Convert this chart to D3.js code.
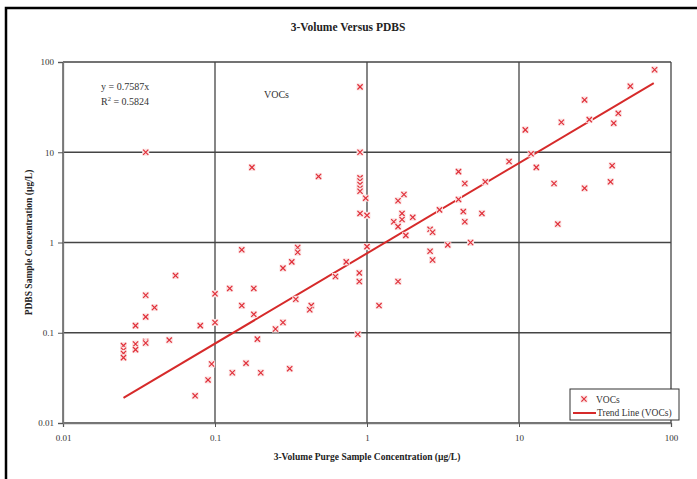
<!DOCTYPE html>
<html>
<head>
<meta charset="utf-8">
<script src="https://cdn.jsdelivr.net/npm/d3@7"></script>
<style>
  body { margin: 0; background: #fff; }
  svg { display: block; }
  text { font-family: "Liberation Serif", "Times New Roman", serif; }
</style>
</head>
<body>
<div id="chart"></div>
<script>
// 3-Volume purge vs PDBS sample concentrations (ug/L)
var purgeX = [0.035, 0.055, 0.035, 0.04, 0.035, 0.03, 0.08, 0.1, 0.1, 0.035,
  0.035, 0.03, 0.03, 0.025, 0.025, 0.025, 0.025, 0.05, 0.095, 0.09,
  0.074, 0.15, 0.35, 0.35, 0.32, 0.28, 0.73, 0.62, 0.89, 0.89,
  1.0, 0.125, 0.18, 0.15, 0.18, 0.34, 0.43, 0.42, 0.28, 0.25,
  0.19, 0.87, 0.16, 0.13, 0.2, 0.31, 0.9, 0.9, 0.175, 0.48,
  0.9, 0.9, 0.9, 0.9, 0.9, 0.98, 0.9, 1.0, 8.6, 4.0,
  4.4, 6.0, 1.75, 1.6, 1.7, 1.7, 1.5, 1.6, 2.0, 1.8,
  2.6, 2.7, 4.3, 4.4, 5.7, 4.0, 3.0, 4.8, 2.6, 2.7,
  3.4, 1.6, 1.2, 78, 54, 27, 45, 42, 19, 29,
  11, 12, 13, 41, 40, 17, 27, 18];
var pdbsY = [10, 0.43, 0.26, 0.19, 0.15, 0.12, 0.12, 0.27, 0.13, 0.08,
  0.077, 0.075, 0.065, 0.072, 0.064, 0.059, 0.053, 0.083, 0.045, 0.03,
  0.02, 0.83, 0.88, 0.78, 0.61, 0.52, 0.61, 0.42, 0.46, 0.37,
  0.9, 0.31, 0.31, 0.2, 0.16, 0.235, 0.2, 0.18, 0.13, 0.11,
  0.085, 0.096, 0.046, 0.036, 0.036, 0.04, 53, 10, 6.8, 5.4,
  5.2, 4.8, 4.4, 4.0, 3.7, 3.1, 2.1, 2.0, 7.9, 6.1,
  4.5, 4.7, 3.4, 2.9, 2.1, 1.8, 1.7, 1.5, 1.9, 1.2,
  1.4, 1.3, 2.2, 1.7, 2.1, 3.0, 2.3, 1.0, 0.8, 0.64,
  0.94, 0.37, 0.2, 82, 54, 38, 27, 21, 21.5, 23,
  17.7, 9.6, 6.8, 7.1, 4.7, 4.5, 4.0, 1.6];
var trendSlope = 0.7587;
var trendRange = [0.025, 77];
var tickVals = [0.01, 0.1, 1, 10, 100];

var W = 697, H = 479;
var margin = { left: 63, right: 26, top: 62, bottom: 56 };

var svg = d3.select('#chart').append('svg')
    .attr('width', W)
    .attr('height', H);

// outer frame
svg.append('rect')
    .attr('x', 6).attr('y', 8)
    .attr('width', W + 10).attr('height', H + 10)
    .attr('fill', 'none')
    .attr('stroke', '#000')
    .attr('stroke-width', 2.5);

var x = d3.scaleLog().domain([0.01, 100]).range([margin.left, W - margin.right]);
var y = d3.scaleLog().domain([0.01, 100]).range([H - margin.bottom, margin.top]);

// grid
svg.append('g').selectAll('line')
    .data(tickVals)
    .enter().append('line')
    .attr('x1', function(d) { return x(d) })
    .attr('x2', function(d) { return x(d) })
    .attr('y1', y(100)).attr('y2', y(0.01))
    .attr('stroke', '#444').attr('stroke-width', 1.3);
svg.append('g').selectAll('line')
    .data(tickVals)
    .enter().append('line')
    .attr('y1', function(d) { return y(d) })
    .attr('y2', function(d) { return y(d) })
    .attr('x1', x(0.01)).attr('x2', x(100))
    .attr('stroke', '#444').attr('stroke-width', 1.3);

var fmt = function(d) { return d3.format('~g')(d) };

var xAxis = svg.append('g')
    .attr('transform', 'translate(0,' + y(0.01) + ')')
    .call(d3.axisBottom(x).tickValues(tickVals).tickFormat(fmt).tickSize(4).tickPadding(8));
var yAxis = svg.append('g')
    .attr('transform', 'translate(' + x(0.01) + ',0)')
    .call(d3.axisLeft(y).tickValues(tickVals).tickFormat(fmt).tickSize(5).tickPadding(4));

[xAxis, yAxis].forEach(function(a) {
  a.select('.domain').attr('stroke', '#777').attr('stroke-width', 1.3);
  a.selectAll('.tick line').attr('stroke', '#555');
  a.selectAll('.tick text')
    .attr('font-family', '"Liberation Serif", serif')
    .attr('font-size', 9)
    .attr('fill', '#333');
});

// trend line
svg.append('line')
    .attr('x1', x(trendRange[0])).attr('y1', y(trendRange[0] * trendSlope))
    .attr('x2', x(trendRange[1])).attr('y2', y(trendRange[1] * trendSlope))
    .attr('stroke', '#d62a2a')
    .attr('stroke-width', 2);

// markers
var pts = purgeX.map(function(v, i) { return [v, pdbsY[i]] });
var s = 2.6;
var marks = svg.append('g').selectAll('g')
    .data(pts)
    .enter().append('g')
    .attr('transform', function(d) { return 'translate(' + x(d[0]) + ',' + y(d[1]) + ')' });
marks.append('rect')
    .attr('x', -3.5).attr('y', -3.5).attr('width', 7).attr('height', 7)
    .attr('fill', '#fbe3e3');
marks.append('path')
    .attr('d', 'M' + (-s) + ',' + (-s) + 'L' + s + ',' + s + 'M' + (-s) + ',' + s + 'L' + s + ',' + (-s))
    .attr('stroke', '#e0303a')
    .attr('stroke-width', 1.2);

// titles
svg.append('text')
    .attr('x', 348).attr('y', 31)
    .attr('text-anchor', 'middle')
    .attr('font-weight', 'bold')
    .attr('font-size', 11.5)
    .attr('fill', '#222')
    .text('3-Volume Versus PDBS');

svg.append('text')
    .attr('x', (x(0.01) + x(100)) / 2).attr('y', 460)
    .attr('text-anchor', 'middle')
    .attr('font-weight', 'bold')
    .attr('font-size', 9.5)
    .attr('fill', '#222')
    .text('3-Volume Purge Sample Concentration (\u00b5g/L)');

svg.append('text')
    .attr('transform', 'translate(32,' + (y(1) + 0) + ') rotate(-90)')
    .attr('text-anchor', 'middle')
    .attr('font-weight', 'bold')
    .attr('font-size', 9.5)
    .attr('fill', '#222')
    .text('PDBS Sample Concentration (\u00b5g/L)');

// equation + series label
svg.append('text')
    .attr('x', 101).attr('y', 90)
    .attr('font-size', 10).attr('fill', '#333')
    .text('y = 0.7587x');
var r2 = svg.append('text')
    .attr('x', 101).attr('y', 105)
    .attr('font-size', 10).attr('fill', '#333');
r2.append('tspan').text('R');
r2.append('tspan').attr('dy', -4).attr('font-size', 6.5).text('2');
r2.append('tspan').attr('dy', 4).text(' = 0.5824');

svg.append('text')
    .attr('x', 264).attr('y', 98)
    .attr('font-size', 10).attr('fill', '#333')
    .text('VOCs');

// legend
var lg = svg.append('g').attr('transform', 'translate(570,389)');
lg.append('rect')
    .attr('width', 109).attr('height', 31)
    .attr('fill', '#fff')
    .attr('stroke', '#333').attr('stroke-width', 1);
var lm = lg.append('g').attr('transform', 'translate(14,10)');
lm.append('rect').attr('x', -3.5).attr('y', -3.5).attr('width', 7).attr('height', 7).attr('fill', '#fbe3e3');
lm.append('path')
    .attr('d', 'M' + (-s) + ',' + (-s) + 'L' + s + ',' + s + 'M' + (-s) + ',' + s + 'L' + s + ',' + (-s))
    .attr('stroke', '#e0303a').attr('stroke-width', 1.2);
lg.append('text').attr('x', 26).attr('y', 13.5)
    .attr('font-size', 9.5).attr('fill', '#333').text('VOCs');
lg.append('line')
    .attr('x1', 3).attr('x2', 26).attr('y1', 24).attr('y2', 24)
    .attr('stroke', '#d62a2a').attr('stroke-width', 2);
lg.append('text').attr('x', 27).attr('y', 27)
    .attr('font-size', 9.5).attr('fill', '#333').text('Trend Line (VOCs)');
</script>
</body>
</html>
